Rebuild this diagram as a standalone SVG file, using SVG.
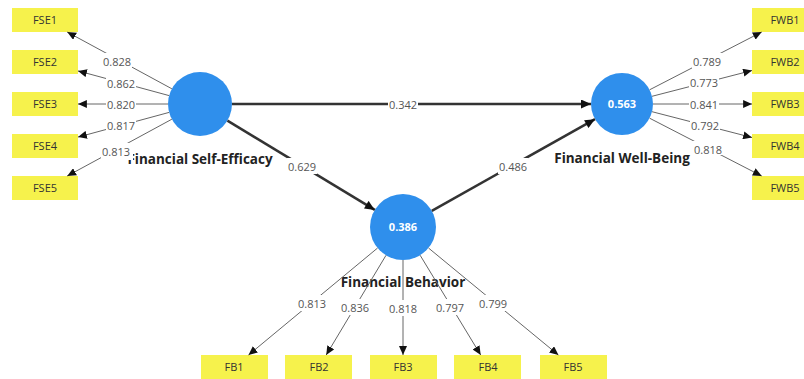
<svg xmlns="http://www.w3.org/2000/svg" width="804" height="379" viewBox="0 0 804 379">
  <style>
    .ind rect { fill: #f6f24c; }
    .ind text { font-family: "Open Sans", "Noto Sans", "DejaVu Sans", sans-serif; font-size: 11px; fill: #333; text-anchor: middle; }
    .lv circle { fill: #2f8fec; }
    .lv .val { font-family: "Open Sans", "Noto Sans", sans-serif; font-size: 11px; font-weight: bold; fill: #fff; text-anchor: middle; }
    .lv .name { font-family: "Open Sans", "Noto Sans", sans-serif; font-size: 13.5px; font-weight: bold; fill: #222; text-anchor: middle; }
    .load { stroke: #666; stroke-width: 1; fill: none; marker-end: url(#tipS); }
    .path { stroke: #333; stroke-width: 2.5; fill: none; marker-end: url(#tipL); }
    .lbl rect { fill: #fff; }
    .lbl text { font-family: "Open Sans", "Noto Sans", sans-serif; font-size: 11px; fill: #555; text-anchor: middle; dominant-baseline: central; }
  </style>
  <defs>
    <marker id="tipS" viewBox="0 0 10 9" refX="10" refY="4.5" markerWidth="9" markerHeight="8" markerUnits="userSpaceOnUse" orient="auto">
      <path d="M0,0 L10,4.5 L0,9 z" fill="#111"/>
    </marker>
    <marker id="tipL" viewBox="0 0 10 9" refX="10" refY="4.5" markerWidth="11" markerHeight="9" markerUnits="userSpaceOnUse" orient="auto">
      <path d="M0,0 L10,4.5 L0,9 z" fill="#111"/>
    </marker>
  </defs>
  <rect x="0" y="0" width="804" height="379" fill="#fff"/>

  <!-- indicators: Financial Self-Efficacy -->
  <g id="FSE1" class="ind"><rect x="12" y="8" width="66" height="24"/><text x="45" y="24">FSE1</text></g>
  <g id="FSE2" class="ind"><rect x="12" y="50" width="66" height="24"/><text x="45" y="66">FSE2</text></g>
  <g id="FSE3" class="ind"><rect x="12" y="92" width="66" height="24"/><text x="45" y="108">FSE3</text></g>
  <g id="FSE4" class="ind"><rect x="12" y="134" width="66" height="24"/><text x="45" y="150">FSE4</text></g>
  <g id="FSE5" class="ind"><rect x="12" y="176" width="66" height="24"/><text x="45" y="192">FSE5</text></g>

  <!-- indicators: Financial Well-Being -->
  <g id="FWB1" class="ind"><rect x="752" y="8" width="66" height="24"/><text x="785" y="24">FWB1</text></g>
  <g id="FWB2" class="ind"><rect x="752" y="50" width="66" height="24"/><text x="785" y="66">FWB2</text></g>
  <g id="FWB3" class="ind"><rect x="752" y="92" width="66" height="24"/><text x="785" y="108">FWB3</text></g>
  <g id="FWB4" class="ind"><rect x="752" y="134" width="66" height="24"/><text x="785" y="150">FWB4</text></g>
  <g id="FWB5" class="ind"><rect x="752" y="176" width="66" height="24"/><text x="785" y="192">FWB5</text></g>

  <!-- indicators: Financial Behavior -->
  <g id="FB1" class="ind"><rect x="201" y="355" width="67" height="24"/><text x="234" y="371">FB1</text></g>
  <g id="FB2" class="ind"><rect x="285" y="355" width="67" height="24"/><text x="319" y="371">FB2</text></g>
  <g id="FB3" class="ind"><rect x="370" y="355" width="67" height="24"/><text x="403" y="371">FB3</text></g>
  <g id="FB4" class="ind"><rect x="454" y="355" width="67" height="24"/><text x="488" y="371">FB4</text></g>
  <g id="FB5" class="ind"><rect x="540" y="355" width="67" height="24"/><text x="573" y="371">FB5</text></g>

  <!-- latent variables -->
  <g id="FSE" class="lv">
    <circle cx="200" cy="104" r="32"/>
    <text class="name" x="200" y="164">Financial Self-Efficacy</text>
  </g>
  <g id="FWB" class="lv">
    <circle cx="622" cy="104" r="31"/>
    <text class="val" x="622" y="108">0.563</text>
    <text class="name" x="622" y="163">Financial Well-Being</text>
  </g>
  <g id="FB" class="lv">
    <circle cx="403" cy="227" r="33"/>
    <text class="val" x="403" y="231">0.386</text>
    <text class="name" x="403" y="287">Financial Behavior</text>
  </g>

  <!-- connectors -->
  <g id="connectors">
    <!-- outer loadings: Financial Self-Efficacy -->
    <line class="load" x1="171.9" y1="88.8" x2="67.2" y2="32"/>
    <line class="load" x1="169.1" y1="95.6" x2="78" y2="70.9"/>
    <line class="load" x1="168" y1="104" x2="78" y2="104"/>
    <line class="load" x1="169.1" y1="112.4" x2="78" y2="137.1"/>
    <line class="load" x1="171.9" y1="119.2" x2="67.2" y2="176"/>
    <!-- outer loadings: Financial Well-Being -->
    <line class="load" x1="649.6" y1="89.8" x2="761.7" y2="32"/>
    <line class="load" x1="652" y1="96.3" x2="752" y2="70.5"/>
    <line class="load" x1="653" y1="104" x2="752" y2="104"/>
    <line class="load" x1="652" y1="111.7" x2="752" y2="137.5"/>
    <line class="load" x1="649.6" y1="118.2" x2="761.7" y2="176"/>
    <!-- outer loadings: Financial Behavior -->
    <line class="load" x1="377.6" y1="248" x2="248.5" y2="355"/>
    <line class="load" x1="386" y1="255.3" x2="326.2" y2="355"/>
    <line class="load" x1="403" y1="260" x2="403" y2="355"/>
    <line class="load" x1="420.1" y1="255.2" x2="480.7" y2="355"/>
    <line class="load" x1="428.5" y1="248" x2="558.4" y2="355"/>
    <!-- structural paths -->
    <line class="path" x1="232" y1="104" x2="591" y2="104"/>
    <line class="path" x1="227.4" y1="120.6" x2="374.8" y2="209.9"/>
    <line class="path" x1="431.8" y1="210.8" x2="595" y2="119.2"/>

    <!-- coefficient labels -->
    <g class="lbl">
      <rect x="102" y="53" width="30" height="16"/><text x="117" y="61">0.828</text>
      <rect x="106" y="75" width="30" height="16"/><text x="121" y="83">0.862</text>
      <rect x="106" y="96" width="30" height="16"/><text x="121" y="104">0.820</text>
      <rect x="106" y="117" width="30" height="16"/><text x="121" y="125">0.817</text>
      <rect x="101" y="143" width="32" height="17"/><text x="116" y="151">0.813</text>

      <rect x="692" y="53" width="30" height="16"/><text x="707" y="61">0.789</text>
      <rect x="689" y="74" width="30" height="16"/><text x="704" y="82">0.773</text>
      <rect x="689" y="96" width="30" height="16"/><text x="704" y="104">0.841</text>
      <rect x="690" y="117" width="30" height="16"/><text x="705" y="125">0.792</text>
      <rect x="693" y="141" width="30" height="14"/><text x="708" y="149">0.818</text>

      <rect x="297" y="295" width="30" height="16"/><text x="312" y="303">0.813</text>
      <rect x="340" y="299" width="30" height="16"/><text x="355" y="307">0.836</text>
      <rect x="388" y="300" width="30" height="16"/><text x="403" y="308">0.818</text>
      <rect x="435" y="299" width="30" height="16"/><text x="450" y="307">0.797</text>
      <rect x="478" y="295" width="30" height="16"/><text x="493" y="303">0.799</text>

      <rect x="388" y="97" width="30" height="14"/><text x="403" y="104">0.342</text>
      <rect x="287" y="158" width="30" height="16"/><text x="302" y="166">0.629</text>
      <rect x="498" y="158" width="30" height="16"/><text x="513" y="166">0.486</text>
    </g>
  </g>
</svg>
